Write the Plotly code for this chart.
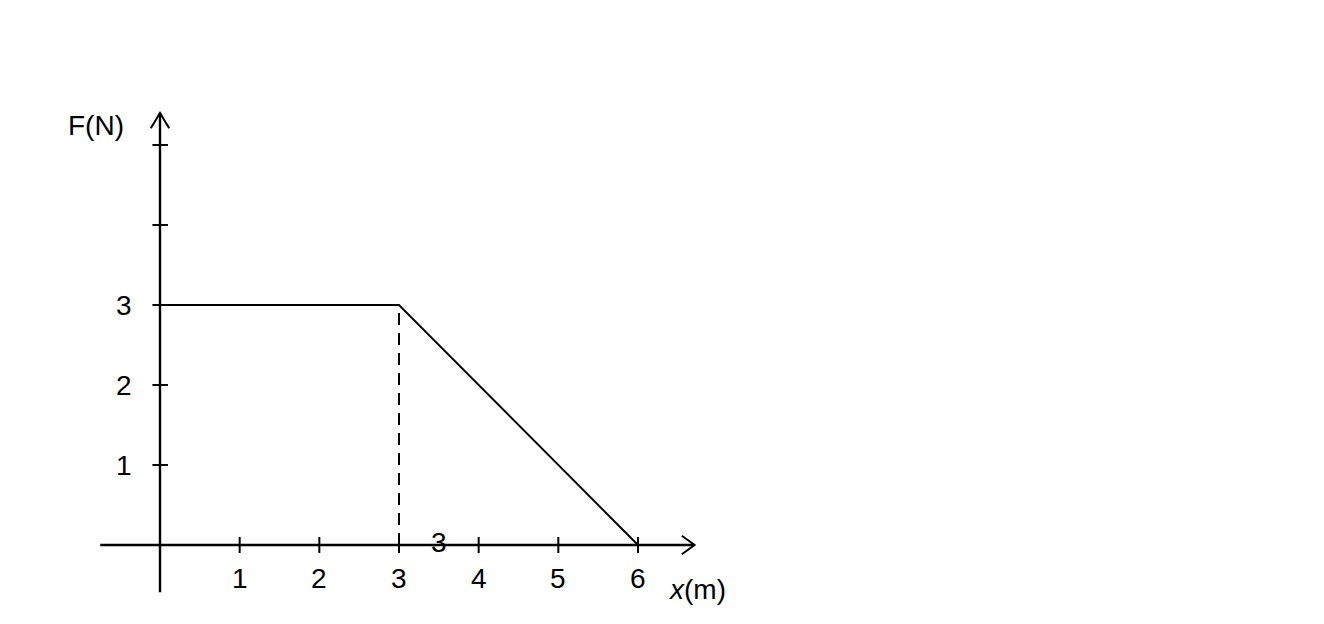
import plotly.graph_objects as go

# Data
x_points = [0, 3, 6]
force_points = [3, 3, 0]
x_ticks = [1, 2, 3, 4, 5, 6]
x_tick_labels = ["1", "2", "3", "4", "5", "6"]
y_ticks = [1, 2, 3, 4, 5]
y_tick_labels = ["1", "2", "3", "", ""]
dashed_x = [3, 3]
dashed_y = [0, 3]
x_axis_extent = [-0.75, 6.71]
y_axis_extent = [-0.59, 5.4]
stray_label = {"x": 3.5, "y": 0.03, "text": "3"}

FONT = "Liberation Sans, Arial, sans-serif"
BLACK = "#000000"
FS = 28

fig = go.Figure()

# axes lines
fig.add_trace(go.Scatter(x=x_axis_extent, y=[0, 0], mode="lines",
                         line=dict(color=BLACK, width=2.4), hoverinfo="skip"))
fig.add_trace(go.Scatter(x=[0, 0], y=y_axis_extent, mode="lines",
                         line=dict(color=BLACK, width=2.4), hoverinfo="skip"))

# arrow heads (open)
xa = x_axis_extent[1]
fig.add_trace(go.Scatter(x=[xa - 0.16, xa, xa - 0.16], y=[0.115, 0, -0.115], mode="lines",
                         line=dict(color=BLACK, width=2), hoverinfo="skip"))
ya = y_axis_extent[1]
fig.add_trace(go.Scatter(x=[-0.115, 0, 0.115], y=[ya - 0.19, ya, ya - 0.19], mode="lines",
                         line=dict(color=BLACK, width=2), hoverinfo="skip"))

# tick marks
tx, ty = [], []
for t in x_ticks:
    tx += [t, t, None]
    ty += [-0.1, 0.1, None]
fig.add_trace(go.Scatter(x=tx, y=ty, mode="lines", line=dict(color=BLACK, width=2), hoverinfo="skip"))
tx, ty = [], []
for t in y_ticks:
    tx += [-0.095, 0.1, None]
    ty += [t, t, None]
fig.add_trace(go.Scatter(x=tx, y=ty, mode="lines", line=dict(color=BLACK, width=2), hoverinfo="skip"))

# dashed line
fig.add_trace(go.Scatter(x=dashed_x, y=dashed_y, mode="lines",
                         line=dict(color=BLACK, width=2, dash="12px,8px"), hoverinfo="skip"))

# force curve
fig.add_trace(go.Scatter(x=x_points, y=force_points, mode="lines",
                         line=dict(color=BLACK, width=1.9), hoverinfo="skip"))

annotations = []
for t, lab in zip(x_ticks, x_tick_labels):
    annotations.append(dict(x=t, y=-0.42, text=lab, showarrow=False,
                            font=dict(family=FONT, size=FS, color=BLACK)))
for t, lab in zip(y_ticks, y_tick_labels):
    if lab:
        annotations.append(dict(x=-0.45, y=t, text=lab, showarrow=False,
                                font=dict(family=FONT, size=FS, color=BLACK)))
annotations.append(dict(x=-0.8, y=5.25, text="F(N)", showarrow=False,
                        font=dict(family=FONT, size=FS, color=BLACK)))
annotations.append(dict(x=6.74, y=-0.56, text="<i>x</i>(m)", showarrow=False,
                        font=dict(family=FONT, size=FS, color=BLACK)))
annotations.append(dict(x=stray_label["x"], y=stray_label["y"], text=stray_label["text"], showarrow=False,
                        font=dict(family=FONT, size=FS, color=BLACK)))

# page body adds an 8px offset; origin should land at (160, 545) on screen
x0_px, y0_px = 152, 537
xu = (638 - 160) / 6.0
yu = 80.0
fig.update_layout(
    width=1324, height=624,
    margin=dict(l=0, r=0, t=0, b=0),
    paper_bgcolor="white", plot_bgcolor="white",
    showlegend=False,
    xaxis=dict(range=[-x0_px / xu, (1324 - x0_px) / xu], visible=False, fixedrange=True),
    yaxis=dict(range=[-(624 - y0_px) / yu, y0_px / yu], visible=False, fixedrange=True),
    annotations=annotations,
)

fig.write_html("out.html")
